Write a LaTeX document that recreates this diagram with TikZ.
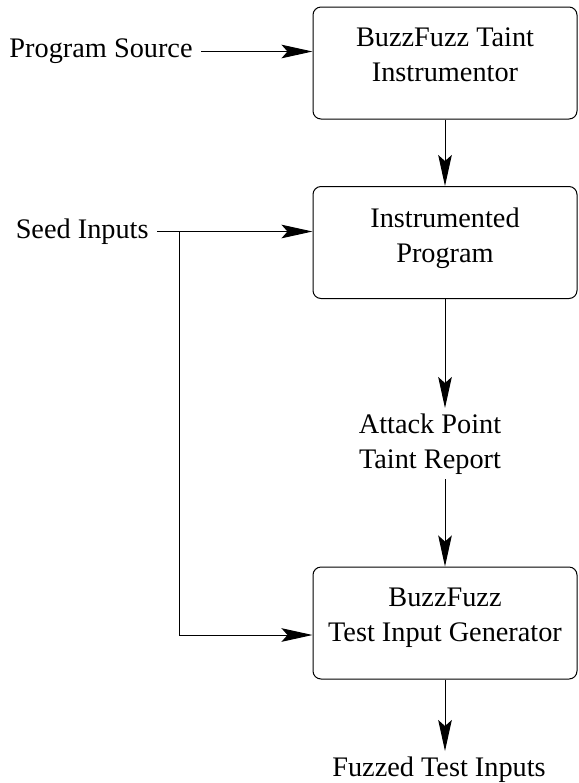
\documentclass[tikz,border=0pt]{standalone}
\usepackage{fontspec}
\setmainfont{Liberation Serif}
\usetikzlibrary{arrows.meta,positioning}
\tikzset{
    % Define node styles
    stagebox/.style={
        rectangle, draw, line width=0.5pt, rounded corners=4pt,
        minimum width=132pt, minimum height=56pt, inner sep=0pt
    },
    boxtext/.style={
        anchor=north, inner sep=0pt, align=center, yshift=-10.5pt,
        font=\fontsize{14.15pt}{17.5pt}\selectfont
    },
    plaintext/.style={
        align=center, inner sep=2.5pt,
        font=\fontsize{14.15pt}{17.5pt}\selectfont
    },
    flow/.style={
        -{Stealth[length=15.5pt,width=6.8pt,inset=3pt]}, line width=0.5pt
    }
}
\begin{document}
\begin{tikzpicture}[x=0.5pt, y=-0.5pt]
\useasboundingbox (0,0) rectangle (579,783);

% Pipeline stages
\node[stagebox, label={[boxtext]north:BuzzFuzz Taint\\Instrumentor}] (instr) at (445,63) {};
\node[stagebox, label={[boxtext]north:Instrumented\\Program}] (prog) at (445,242.5) {};
\node[stagebox, label={[boxtext]north:BuzzFuzz\\Test Input Generator}] (gen) at (445,623) {};

% Inputs and outputs
\node[plaintext, anchor=east, inner xsep=4pt] (src) at (201,51.5) {Program Source};
\node[plaintext, anchor=east, inner xsep=4pt] (seed) at (157,231.5) {Seed Inputs};
\node[plaintext, anchor=north] (report) at (430,408) {Attack Point\\Taint Report};
\node[plaintext, anchor=north] (fuzzed) at (439,751) {Fuzzed Test Inputs};
\coordinate (fork) at (179,231.5);

% Arrows
\draw[flow] (src) -- (src -| instr.west);
\draw[flow] (instr) -- (prog);
\draw[flow] (seed) -- (seed -| prog.west);
\draw[flow] (fork) |- ([yshift=-6pt]gen.west);
\draw[flow] (prog.south) -- (prog.south |- report.north);
\draw[flow] (prog.south |- report.south) -- (gen);
\draw[flow] (gen) -- (gen.south |- fuzzed.north);

\end{tikzpicture}
\end{document}
